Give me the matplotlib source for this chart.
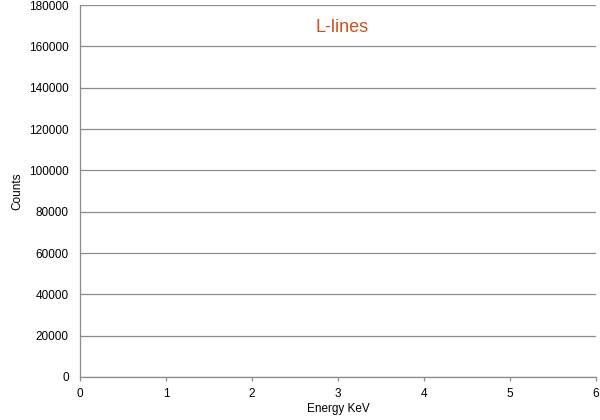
import matplotlib.pyplot as plt
import numpy as np

plt.rcParams['font.family'] = ['Liberation Sans', 'DejaVu Sans']

# chart has no data drawn, only the frame
energy = []
counts = []
x_ticks = [0, 1, 2, 3, 4, 5, 6]
y_ticks = [0, 20000, 40000, 60000, 80000, 100000, 120000, 140000, 160000, 180000]
title = 'L-lines'

fig = plt.figure(figsize=(6, 4.2), dpi=100)
ax = fig.add_axes([0.1333, 0.1024, 0.86, 0.8856])

ax.plot(energy, counts, color='#d0501a')

ax.set_xlim(0, 6)
ax.set_ylim(0, 180000)
ax.set_xticks(x_ticks)
ax.set_yticks(y_ticks)
ax.set_xticklabels([str(t) for t in x_ticks], fontsize=8.5)
ax.set_yticklabels([str(t) for t in y_ticks], fontsize=8.5)

ax.grid(axis='y', color='#8c8c8c', linewidth=0.9)
ax.set_axisbelow(True)
for s in ['top', 'right']:
    ax.spines[s].set_visible(False)
for s in ['left', 'bottom']:
    ax.spines[s].set_color('#8c8c8c')
    ax.spines[s].set_linewidth(0.9)
ax.tick_params(axis='both', colors='#8c8c8c', labelcolor='black', length=3, width=0.9)
ax.tick_params(axis='y', length=0, pad=8)
ax.tick_params(axis='x', pad=5)

ax.set_xlabel('Energy KeV', fontsize=8.5, labelpad=2)
ax.set_ylabel('Counts', fontsize=8.5, labelpad=4)

fig.text(342 / 600, 1 - 27 / 420, title, fontsize=13, color='#d0501a',
         ha='center', va='center')

fig.savefig('out.png', dpi=100)
